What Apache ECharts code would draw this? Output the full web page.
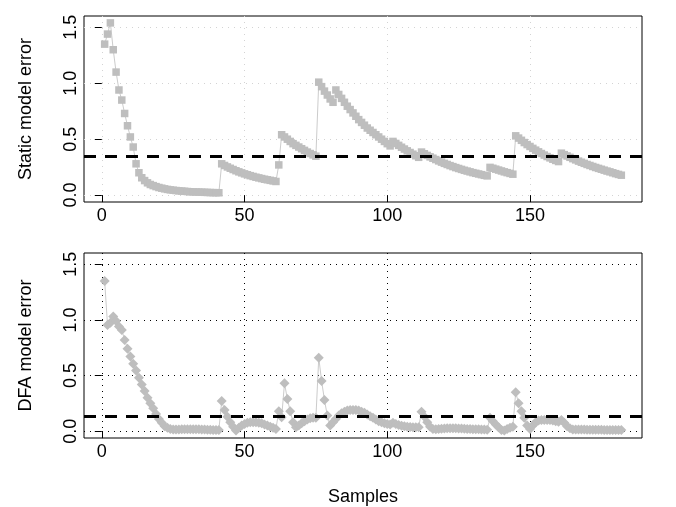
<!DOCTYPE html>
<html><head><meta charset="utf-8">
<script src="https://cdn.jsdelivr.net/npm/echarts@6/dist/echarts.min.js"></script>
<style>html,body{margin:0;padding:0;background:#fff}#c{width:676px;height:507px}</style>
</head><body><div id="c"></div>
<script>
// ---- data ----
const xTicks = [0, 50, 100, 150];
const yTicks = [0, 0.5, 1.0, 1.5];
const xTitle = 'Samples';
const yTitles = ['Static model error', 'DFA model error'];
const staticThreshold = 0.355;
const dfaThreshold = 0.13;

// samples 1..182
const staticError = [
  1.35,1.44,1.54,1.30,1.10,0.94,0.85,0.73,0.62,0.52,0.43,0.28,0.20,
  0.155,0.13,0.11,0.095,0.085,0.076,0.068,0.062,0.056,0.051,
  0.047,0.044,0.041,0.038,0.036,0.034,0.032,0.030,0.029,0.028,
  0.027,0.026,0.025,0.024,0.023,0.022,0.022,0.021,
  0.28,0.265,0.252,0.24,0.229,0.218,0.208,0.199,0.19,0.182,0.174,0.167,0.16,0.154,0.148,0.142,0.137,0.132,0.127,0.122,
  0.27,
  0.54,0.52,0.50,0.48,0.46,0.445,0.43,0.415,0.40,0.385,0.372,0.36,0.348,
  1.01,0.97,0.93,0.895,0.86,0.83,
  0.94,0.90,0.865,0.83,0.795,0.765,0.735,0.705,0.675,0.65,0.625,0.60,0.58,0.56,0.54,0.52,0.50,0.48,0.46,0.44,
  0.48,0.462,0.445,0.428,0.412,0.396,0.381,0.366,0.352,0.338,
  0.385,0.37,0.355,0.342,0.33,0.318,0.306,0.295,0.284,0.274,0.264,0.255,0.246,0.238,0.23,0.222,0.215,0.208,0.201,0.195,0.189,0.183,0.177,0.172,
  0.248,0.24,0.232,0.224,0.216,0.208,0.201,0.194,0.187,
  0.53,0.51,0.49,0.47,0.452,0.435,0.418,0.402,0.387,0.372,0.358,0.345,0.333,0.321,0.31,0.30,
  0.375,0.362,0.35,0.338,0.326,0.315,0.304,0.294,0.284,0.274,0.265,0.256,0.247,0.239,0.231,0.223,0.215,0.208,0.2,0.192,0.185,0.178
];
const dfaError = [
  1.35,0.955,0.975,1.03,0.99,0.94,0.91,0.82,0.74,0.67,0.605,0.545,0.48,0.42,0.36,0.30,0.25,0.205,0.155,0.11,0.075,0.045,0.03,0.02,0.015,
  0.015,0.015,0.016,0.016,0.017,0.017,0.017,0.016,0.016,0.015,0.014,0.013,0.012,0.011,0.01,0.01,
  0.27,0.19,0.13,0.08,0.04,0.005,0.03,0.05,0.065,0.075,0.08,0.08,0.08,0.075,0.07,0.06,0.05,0.04,0.03,0.02,
  0.18,0.125,0.43,0.29,0.18,0.08,0.035,0.05,0.07,0.09,0.105,0.115,0.12,0.12,
  0.66,0.45,0.28,0.14,0.05,0.08,
  0.11,0.14,0.16,0.175,0.185,0.19,0.19,0.19,0.185,0.175,0.165,0.15,0.135,0.12,0.105,0.09,0.08,0.07,0.065,0.06,
  0.075,0.065,0.055,0.048,0.043,0.04,0.038,0.036,0.035,0.035,
  0.175,0.13,0.08,0.04,0.02,0.018,0.02,0.022,0.024,0.025,0.026,0.026,0.025,0.024,0.023,0.022,0.02,0.019,0.018,0.017,0.016,0.015,0.014,0.013,
  0.12,0.09,0.06,0.035,0.01,0.005,0.02,0.03,0.04,
  0.35,0.25,0.18,0.12,0.05,0.02,0.05,0.08,0.095,0.10,0.10,0.10,0.10,0.095,0.09,0.085,
  0.10,0.075,0.045,0.025,0.015,0.015,0.015,0.014,0.014,0.013,0.013,0.013,0.012,0.012,0.012,0.011,0.011,0.01,0.01,0.01,0.01,0.01
];

// ---- chart ----
const font = '"Liberation Sans", Arial, Helvetica, sans-serif';
const toPairs = arr => arr.map((v, i) => [i + 1, v]);
const gridColors = ['#D3D3D3', '#000000'];

function makeX(i, name) {
  return {
    type: 'value', gridIndex: i, min: -6.24, max: 189.24,
    axisLine: { show: false },
    axisTick: { show: true, customValues: xTicks, length: 7, inside: false, lineStyle: { color: '#000', width: 1 } },
    axisLabel: { customValues: xTicks, margin: 5, fontSize: 18, color: '#000', fontFamily: font },
    splitLine: { show: true, lineStyle: { color: gridColors[i], width: 1, type: [1, 5] } },
    name: name, nameLocation: 'middle', nameGap: 50,
    nameTextStyle: { fontSize: 18, color: '#000', fontFamily: font }
  };
}
function makeY(i, name) {
  return {
    type: 'value', gridIndex: i, min: -0.0616, max: 1.6016,
    axisLine: { show: false },
    axisTick: { show: true, customValues: yTicks, length: 7, inside: false, lineStyle: { color: '#000', width: 1 } },
    axisLabel: { customValues: yTicks, rotate: 90, margin: 4, fontSize: 18, color: '#000', fontFamily: font,
                 formatter: v => Number(v).toFixed(1) },
    splitLine: { show: true, lineStyle: { color: gridColors[i], width: 1, type: [1, 5] } },
    name: name, nameLocation: 'middle', nameGap: 49, nameRotate: 90,
    nameTextStyle: { fontSize: 18, color: '#000', fontFamily: font }
  };
}
function dashed(value) {
  return {
    silent: true, symbol: 'none', label: { show: false }, animation: false,
    lineStyle: { color: '#000', width: 3, type: [12, 9] },
    data: [{ yAxis: value }]
  };
}

const chart = echarts.init(document.getElementById('c'), null, { renderer: 'canvas' });
chart.setOption({
  animation: false,
  backgroundColor: '#fff',
  grid: [
    { left: 84, top: 16, width: 558, height: 186, show: true, borderColor: '#000', borderWidth: 1 },
    { left: 84, top: 253, width: 558, height: 185, show: true, borderColor: '#000', borderWidth: 1 }
  ],
  xAxis: [makeX(0, ''), makeX(1, xTitle)],
  yAxis: [makeY(0, yTitles[0]), makeY(1, yTitles[1])],
  series: [
    { type: 'line', xAxisIndex: 0, yAxisIndex: 0, data: toPairs(staticError),
      symbol: 'rect', symbolSize: 7.5, showAllSymbol: true,
      lineStyle: { color: '#BEBEBE', width: 0.8 }, itemStyle: { color: '#BEBEBE' },
      markLine: dashed(staticThreshold) },
    { type: 'line', xAxisIndex: 1, yAxisIndex: 1, data: toPairs(dfaError),
      symbol: 'diamond', symbolSize: 10, showAllSymbol: true,
      lineStyle: { color: '#BEBEBE', width: 0.8 }, itemStyle: { color: '#BEBEBE' },
      markLine: dashed(dfaThreshold) }
  ]
});
</script>
</body></html>
